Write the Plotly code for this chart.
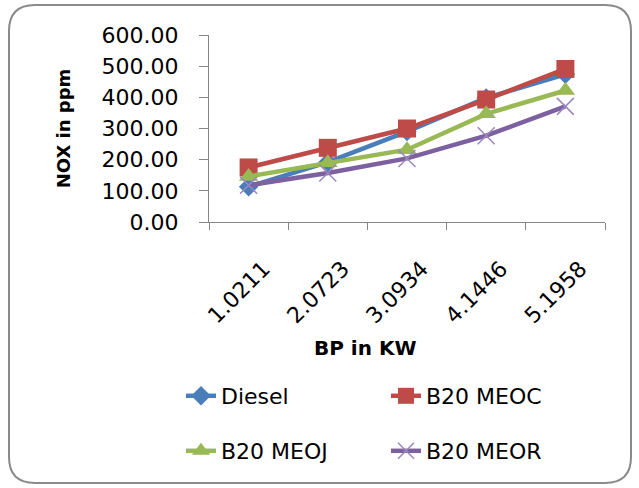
import plotly.graph_objects as go

# ---- data ----
bp_kw = ["1.0211", "2.0723", "3.0934", "4.1446", "5.1958"]
diesel = [113, 192, 290, 398, 474]
b20_meoc = [175, 238, 300, 393, 491]
b20_meoj = [146, 190, 232, 347, 422]
b20_meor = [118, 157, 204, 277, 371]
y_ticks = [0, 100, 200, 300, 400, 500, 600]

W, H = 639, 488
L, R, T, B = 209, 605, 35, 222  # plot area in pixels


def px(x):
    return (x - L) / (R - L)


def py(y):
    return (B - y) / (B - T)


FONT = "DejaVu Sans"

series = [
    ("Diesel", diesel, "#4A7EBB", "diamond", 15, "legend"),
    ("B20 MEOC", b20_meoc, "#BE4B48", "square", 18, "legend2"),
    ("B20 MEOJ", b20_meoj, "#98B954", "triangle-up", 17, "legend3"),
    ("B20 MEOR", b20_meor, "#7D60A0", "x-thin", 17, "legend4"),
]

fig = go.Figure()
for name, vals, col, sym, sz, lg in series:
    if sym == "x-thin":
        marker = dict(symbol=sym, size=sz, color=col, line=dict(color="#9B87BF", width=1.5))
    else:
        marker = dict(symbol=sym, size=sz, color=col, line=dict(width=0))
    fig.add_trace(go.Scatter(
        x=bp_kw, y=vals, name=name, mode="lines+markers",
        line=dict(color=col, width=4.5), marker=marker, legend=lg, showlegend=True,
    ))

leg_common = dict(font=dict(family=FONT, size=22, color="#000000"),
                  bgcolor="rgba(0,0,0,0)", yanchor="middle", xanchor="left",
                  orientation="h", visible=True)

# outer rounded border
x0, y0, x1, y1, r = 9, 5, 631, 483, 26
path = (
    f"M{px(x0 + r)},{py(y0)} L{px(x1 - r)},{py(y0)} "
    f"Q{px(x1)},{py(y0)} {px(x1)},{py(y0 + r)} "
    f"L{px(x1)},{py(y1 - r)} Q{px(x1)},{py(y1)} {px(x1 - r)},{py(y1)} "
    f"L{px(x0 + r)},{py(y1)} Q{px(x0)},{py(y1)} {px(x0)},{py(y1 - r)} "
    f"L{px(x0)},{py(y0 + r)} Q{px(x0)},{py(y0)} {px(x0 + r)},{py(y0)} Z"
)

fig.update_layout(
    width=W, height=H,
    showlegend=True,
    margin=dict(l=L, r=W - R, t=T, b=H - B, autoexpand=False),
    paper_bgcolor="white", plot_bgcolor="white",
    font=dict(family=FONT, size=22, color="#000000"),
    xaxis=dict(
        type="category", range=[-0.5, 4.5], tickson="boundaries",
        ticks="outside", ticklen=7, tickcolor="#868686",
        showline=True, linecolor="#868686", linewidth=1.3,
        showgrid=False, tickangle=-45, ticklabelstandoff=24, ticklabelshift=15,
        tickfont=dict(family=FONT, size=22, color="#000000"),
    ),
    yaxis=dict(
        range=[0, 600], tickvals=y_ticks, tickformat=".2f",
        ticks="outside", ticklen=9, tickcolor="#868686",
        showline=True, linecolor="#868686", linewidth=1.3,
        showgrid=False, zeroline=False, ticklabelstandoff=16,
        tickfont=dict(family=FONT, size=22, color="#000000"),
        title=dict(text="<b>NOX in ppm</b>", font=dict(family=FONT, size=18), standoff=26),
    ),
    annotations=[dict(text="<b>BP in KW</b>", xref="paper", yref="paper",
                      x=px(365), y=py(348), xanchor="center", yanchor="middle",
                      showarrow=False, font=dict(family=FONT, size=20, color="#000000"))],
    legend=dict(x=px(181), y=py(396), **leg_common),
    legend2=dict(x=px(386), y=py(396), **leg_common),
    legend3=dict(x=px(181), y=py(451), **leg_common),
    legend4=dict(x=px(386), y=py(451), **leg_common),
    shapes=[dict(type="path", xref="paper", yref="paper", path=path,
                 line=dict(color="#8A8A8A", width=2), fillcolor="rgba(0,0,0,0)")],
)

fig.write_html("out.html", config={"displayModeBar": False},
               post_script="document.body.style.margin='0';document.body.style.padding='0';")
